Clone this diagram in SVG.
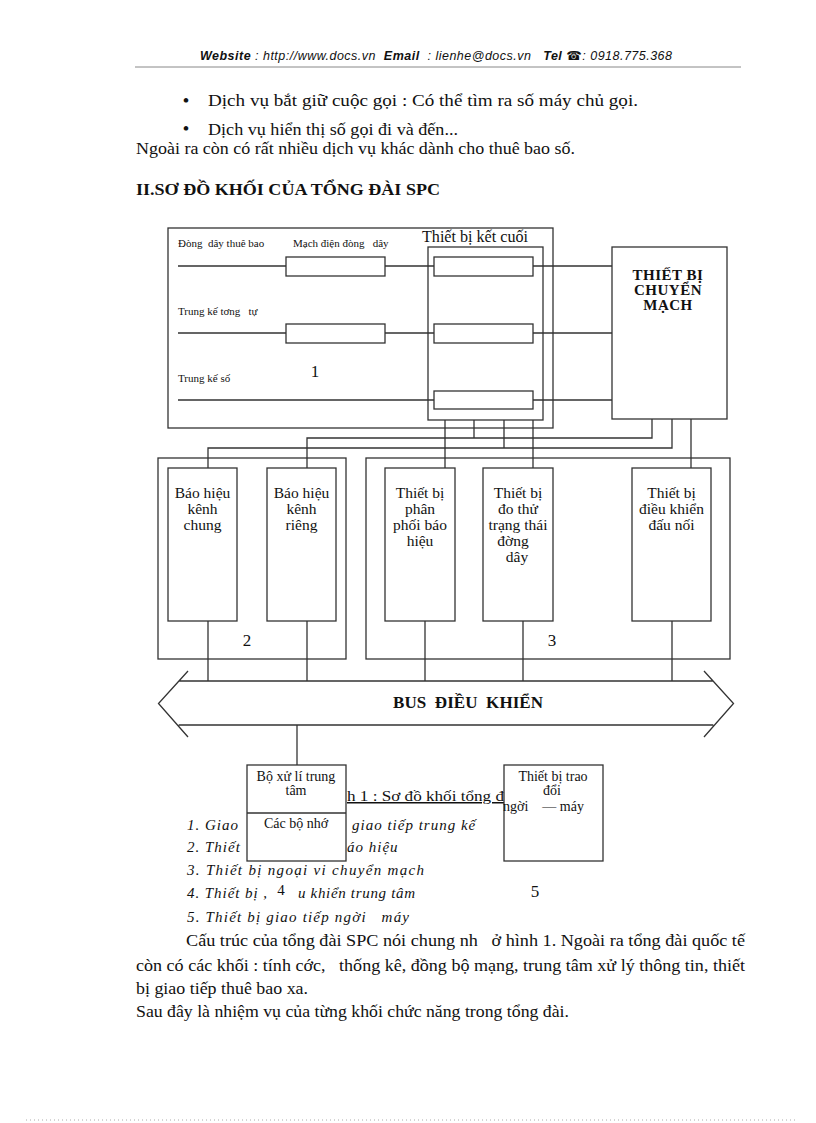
<svg xmlns="http://www.w3.org/2000/svg" width="816" height="1123" viewBox="0 0 816 1123">
<style>
text{font-family:"Liberation Serif","Times New Roman",serif;fill:#111;white-space:pre}
.body{font-size:17px}
.hdr{font-family:"Liberation Sans",Arial,sans-serif;font-size:12.5px;font-style:italic}
.b{font-weight:bold}
.sm{font-size:11px}
.lb{font-size:15.5px;text-anchor:middle}
.sw{font-size:15px;font-weight:bold;text-anchor:middle;letter-spacing:0.5px}
.md{font-size:14px;text-anchor:middle}
.li{font-size:15px;font-style:italic;letter-spacing:1px}
.box{fill:#fff;stroke:#333;stroke-width:1.3}
.ln{fill:none;stroke:#333;stroke-width:1.3}
</style>
<rect width="816" height="1123" fill="#fff"/>
<g id="page-text">
<text class="hdr" x="200" y="60" textLength="472" lengthAdjust="spacing"><tspan class="b">Website</tspan> : http://www.docs.vn  <tspan class="b">Email</tspan>  : lienhe@docs.vn   <tspan class="b">Tel</tspan> <tspan style="font-family:'DejaVu Sans',sans-serif;font-style:normal;font-weight:bold">☎</tspan>: 0918.775.368</text>
<line x1="135" y1="67" x2="741" y2="67" stroke="#888" stroke-width="1"/>
<text class="body b" x="183" y="106">•</text>
<text class="body" x="208" y="106" textLength="430" lengthAdjust="spacingAndGlyphs">Dịch vụ bắt giữ cuộc gọi : Có thể tìm ra số máy chủ gọi.</text>
<text class="body b" x="183" y="134">•</text>
<text class="body" x="208" y="135" textLength="250" lengthAdjust="spacingAndGlyphs">Dịch vụ hiển thị số gọi đi và đến...</text>
<text class="body" x="136" y="154" textLength="439" lengthAdjust="spacingAndGlyphs">Ngoài ra còn có rất nhiều dịch vụ khác dành cho thuê bao số.</text>
<text class="body b" x="136" y="195" textLength="304" lengthAdjust="spacingAndGlyphs">II.SƠ ĐỒ KHỐI CỦA TỔNG ĐÀI SPC</text>
</g>
<g id="connectors">
<path class="ln" d="M178 266H286M385 266H434M533 266H612"/>
<path class="ln" d="M178 333H286M385 333H434M533 333H612"/>
<path class="ln" d="M178 400H434M533 400H612"/>
<path class="ln" d="M307 468V438H652V419M474 420V438"/>
<path class="ln" d="M208 468V448H672V419M504 420V448"/>
<path class="ln" d="M445 420V468M533 420V468M691 419V468"/>
<path class="ln" d="M208 621V681M307 621V681M425 621V681M523 621V681M672 621V681"/>
<path class="ln" d="M297 725V765"/>
</g>
<g id="block1">
<rect class="box" x="168" y="228" width="385" height="200" style="fill:none"/>
<text class="sm" x="178" y="247">Đòng  dây thuê bao</text>
<text class="sm" x="293" y="247">Mạch điện đòng   dây</text>
<text class="sm" x="178" y="315">Trung kế tơng   tự</text>
<text class="sm" x="178" y="382">Trung kế số</text>
<text class="body" x="315" y="377" text-anchor="middle">1</text>
<rect class="box" x="286" y="257" width="99" height="19"/>
<rect class="box" x="286" y="324" width="99" height="19"/>
</g>
<g id="terminal-equipment">
<rect class="box" x="428" y="247" width="115" height="173" style="fill:none"/>
<text class="body" x="475" y="242" text-anchor="middle" textLength="106" lengthAdjust="spacingAndGlyphs">Thiết bị kết cuối</text>
<rect class="box" x="434" y="257" width="99" height="19"/>
<rect class="box" x="434" y="324" width="99" height="19"/>
<rect class="box" x="434" y="391" width="99" height="18"/>
</g>
<g id="switch">
<rect class="box" x="612" y="247" width="115" height="172"/>
<text class="sw" x="668" y="280">THIẾT BỊ</text>
<text class="sw" x="668" y="295">CHUYỂN</text>
<text class="sw" x="668" y="310">MẠCH</text>
</g>
<g id="block2">
<rect class="box" x="158" y="458" width="188" height="201" style="fill:none"/>
<text class="body" x="247" y="646" text-anchor="middle">2</text>
</g>
<g id="block3">
<rect class="box" x="366" y="458" width="364" height="201" style="fill:none"/>
<text class="body" x="552" y="646" text-anchor="middle">3</text>
</g>
<g id="common-channel">
<rect class="box" x="168" y="468" width="69" height="153"/>
<text class="lb" x="202.5" y="498">Báo hiệu</text>
<text class="lb" x="202.5" y="514">kênh</text>
<text class="lb" x="202.5" y="530">chung</text>
</g>
<g id="channel-assoc">
<rect class="box" x="267" y="468" width="69" height="153"/>
<text class="lb" x="301.5" y="498">Báo hiệu</text>
<text class="lb" x="301.5" y="514">kênh</text>
<text class="lb" x="301.5" y="530">riêng</text>
</g>
<g id="signal-dist">
<rect class="box" x="385" y="468" width="70" height="153"/>
<text class="lb" x="420" y="498">Thiết bị</text>
<text class="lb" x="420" y="514">phân</text>
<text class="lb" x="420" y="530">phối báo</text>
<text class="lb" x="420" y="546">hiệu</text>
</g>
<g id="line-test">
<rect class="box" x="483" y="468" width="70" height="153"/>
<text class="lb" x="518" y="498">Thiết bị</text>
<text class="lb" x="518" y="514">đo thử</text>
<text class="lb" x="518" y="530">trạng thái</text>
<text class="lb" x="513" y="546">đờng</text>
<text class="lb" x="517" y="562">dây</text>
</g>
<g id="connect-ctrl">
<rect class="box" x="632" y="468" width="79" height="153"/>
<text class="lb" x="671.5" y="498">Thiết bị</text>
<text class="lb" x="671.5" y="514">điều khiển</text>
<text class="lb" x="671.5" y="530">đấu nối</text>
</g>
<g id="bus">
<path class="ln" d="M188 671L158.5 703.5L188 737M704 671L733.5 703.5L704 737M178.7 681H713.3M178.7 725H713.3"/>
<text class="body b" x="468" y="708" text-anchor="middle" textLength="150" lengthAdjust="spacing">BUS  ĐIỀU  KHIỂN</text>
</g>
<g id="list-text">
<text x="347" y="801" style="font-size:15px;text-decoration:underline" textLength="157" lengthAdjust="spacingAndGlyphs">h 1 : Sơ đồ khối tổng đ</text>
<text class="li" x="187" y="830">1. Giao</text>
<text class="li" x="352" y="830">giao tiếp trung kế</text>
<text class="li" x="187" y="852">2. Thiết</text>
<text class="li" x="347" y="852">áo hiệu</text>
<text class="li" x="187" y="875" textLength="238" lengthAdjust="spacing">3. Thiết bị ngoại vi chuyển mạch</text>
<text class="li" x="187" y="898" textLength="81" lengthAdjust="spacing">4. Thiết bị ,</text>
<text x="281" y="895" style="font-size:15px" text-anchor="middle">4</text>
<text class="li" x="298" y="898" textLength="118" lengthAdjust="spacing">u khiển trung tâm</text>
<text class="li" x="187" y="922" textLength="223" lengthAdjust="spacing">5. Thiết bị giao tiếp ngời   máy</text>
<text class="body" x="186" y="946" textLength="559" lengthAdjust="spacingAndGlyphs">Cấu trúc của tổng đài SPC nói chung nh   ở hình 1. Ngoài ra tổng đài quốc tế</text>
<text class="body" x="136" y="971" textLength="609" lengthAdjust="spacingAndGlyphs">còn có các khối : tính cớc,   thống kê, đồng bộ mạng, trung tâm xử lý thông tin, thiết</text>
<text class="body" x="136" y="994" textLength="172" lengthAdjust="spacingAndGlyphs">bị giao tiếp thuê bao xa.</text>
<text class="body" x="136" y="1017" textLength="433" lengthAdjust="spacingAndGlyphs">Sau đây là nhiệm vụ của từng khối chức năng trong tổng đài.</text>
<line x1="26" y1="1120" x2="795" y2="1120" stroke="#aaa" stroke-width="1" stroke-dasharray="1 3"/>
</g>
<g id="cpu">
<rect class="box" x="247" y="765" width="99" height="96"/>
<line class="ln" x1="247" y1="813" x2="346" y2="813"/>
<text class="md" x="296" y="781">Bộ xử lí trung</text>
<text class="md" x="296" y="795">tâm</text>
<text class="md" x="296" y="828">Các bộ nhớ</text>
</g>
<g id="hmi">
<rect class="box" x="504" y="765" width="99" height="96"/>
<text class="md" x="553" y="781">Thiết bị trao</text>
<text class="md" x="552" y="795">đổi</text>
<text x="503" y="811" style="font-size:14px">ngời    — máy</text>
<text class="body" x="535" y="897" text-anchor="middle">5</text>
</g>
</svg>
